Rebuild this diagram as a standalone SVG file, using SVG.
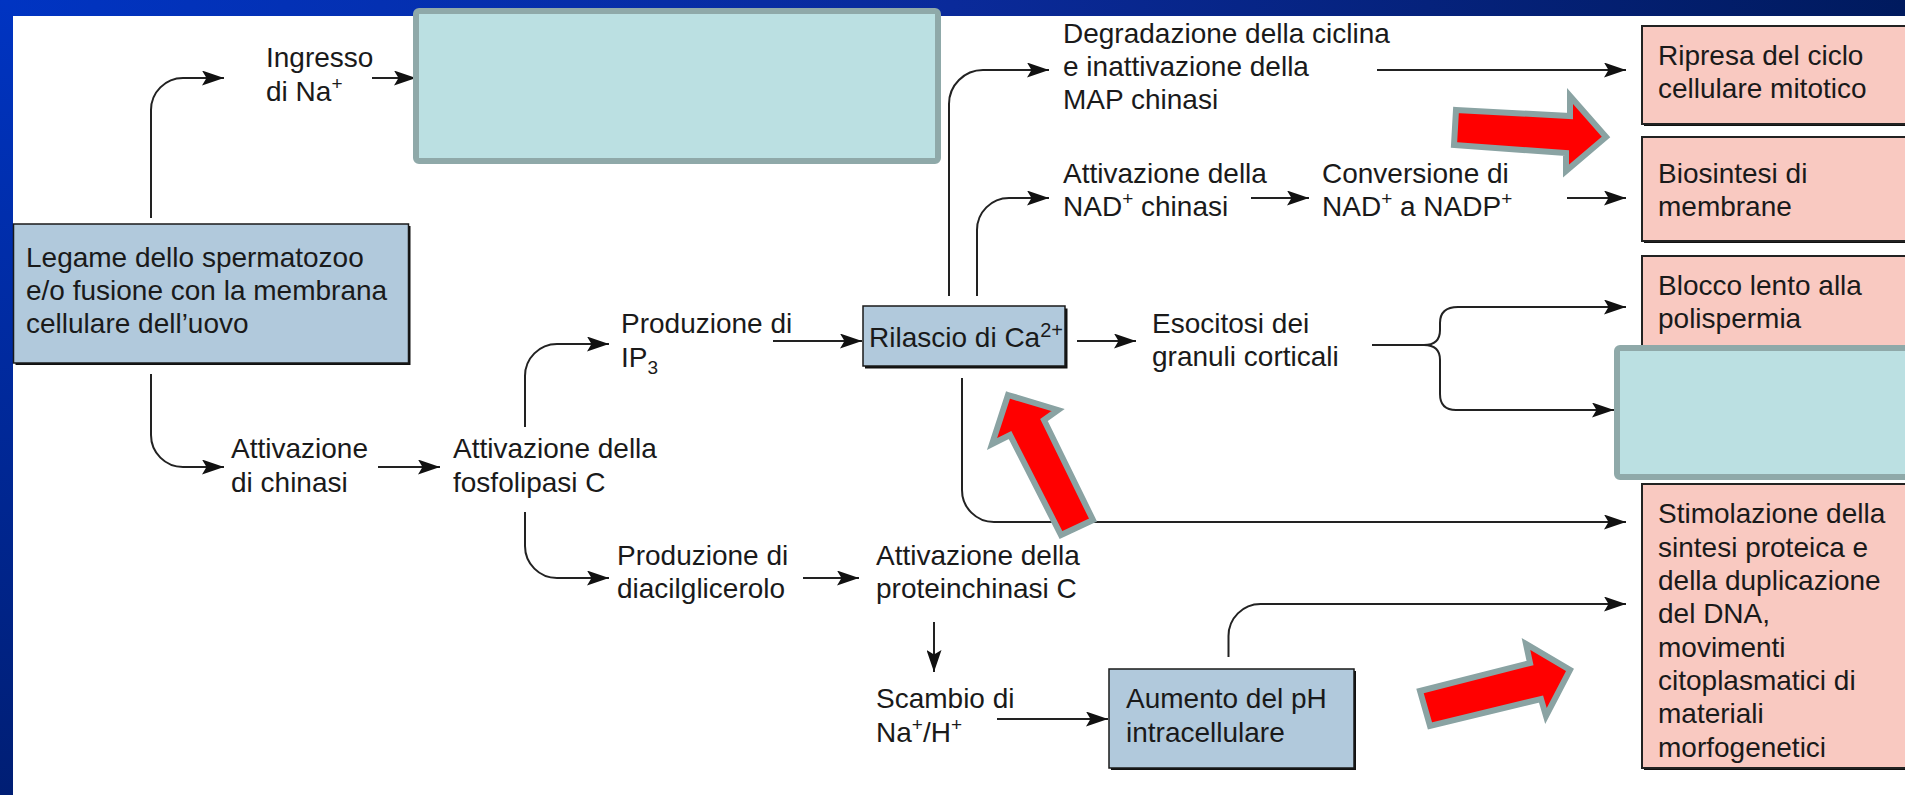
<svg xmlns="http://www.w3.org/2000/svg" width="1905" height="795" viewBox="0 0 1905 795">
<defs>
<linearGradient id="gTop" x1="0" y1="0" x2="1" y2="0">
<stop offset="0" stop-color="#0034c2"/>
<stop offset="0.5" stop-color="#0a2a9a"/>
<stop offset="1" stop-color="#001a5e"/>
</linearGradient>
<linearGradient id="gLeft" x1="0" y1="0" x2="0" y2="1">
<stop offset="0" stop-color="#0034c2"/>
<stop offset="1" stop-color="#001e74"/>
</linearGradient>
<marker id="ah" markerUnits="userSpaceOnUse" markerWidth="23" markerHeight="15" refX="22" refY="7.5" orient="auto">
<path d="M0,0 L22,7.5 L0,15 L4.5,7.5 z" fill="#111"/>
</marker>
<style>
text{font-family:"Liberation Sans",Arial,sans-serif;font-size:28px;fill:#1a1a1a}
.sup{font-size:19px}
.conn{fill:none;stroke:#222;stroke-width:2}
.arr{marker-end:url(#ah)}
.blue{fill:#b1c9dc;stroke:#1a1a1a;stroke-width:1.5}
.pink{fill:#f9c9c1;stroke:#222;stroke-width:2}
.shadow{fill:#111}
.cyan{fill:#bbe0e2;stroke:#8fa9a9;stroke-width:6}
.red{fill:#ff0000;stroke:#8aa3a3;stroke-width:6;stroke-linejoin:miter}
</style>
</defs>
<rect x="0" y="0" width="1905" height="795" fill="#ffffff"/>
<rect x="0" y="0" width="1905" height="16" fill="url(#gTop)"/>
<rect x="0" y="0" width="13" height="795" fill="url(#gLeft)"/>

<g id="connectors">
<path class="conn arr" d="M151,218 V110 A32,32 0 0 1 183,78 H224"/>
<path class="conn arr" d="M372,78 H416"/>
<path class="conn arr" d="M151,374 V435 A32,32 0 0 0 183,467 H224"/>
<path class="conn arr" d="M378,467 H440"/>
<path class="conn arr" d="M525,427 V376 A32,32 0 0 1 557,344 H609"/>
<path class="conn arr" d="M525,512 V546 A32,32 0 0 0 557,578 H609"/>
<path class="conn arr" d="M773,341 H862"/>
<path class="conn arr" d="M803,578 H859"/>
<path class="conn arr" d="M934,622 V672"/>
<path class="conn arr" d="M997,719 H1108"/>
<path class="conn arr" d="M1228.5,657 V636 A32,32 0 0 1 1260.5,604 H1626"/>
<path class="conn arr" d="M962,378 V490 A32,32 0 0 0 994,522 H1626"/>
<path class="conn arr" d="M949,296 V104 A34,34 0 0 1 983,70 H1049"/>
<path class="conn arr" d="M977,296 V230 A32,32 0 0 1 1009,198 H1049"/>
<path class="conn arr" d="M1377,70 H1626"/>
<path class="conn arr" d="M1251,198 H1309"/>
<path class="conn arr" d="M1567,198 H1626"/>
<path class="conn arr" d="M1077,341 H1136"/>
<path class="conn arr" d="M1372,345 H1424 Q1440,345 1440,330 V323 Q1440,307 1458,307 H1626"/>
<path class="conn arr" d="M1424,345 Q1440,345 1440,360 V394 Q1440,410 1456,410 H1614"/>
</g>

<g id="node-ingresso">
<text x="266" y="67">Ingresso</text>
<text x="266" y="101">di Na<tspan class="sup" dy="-11">+</tspan></text>
</g>
<g id="node-cyan-top">
<rect class="cyan" x="416" y="11" width="522" height="150" rx="3"/>
</g>
<g id="node-legame">
<rect class="shadow" x="15.5" y="226" width="395" height="139"/>
<rect class="blue" x="13.5" y="224" width="395" height="139"/>
<text x="26" y="267">Legame dello spermatozoo</text>
<text x="26" y="300">e/o fusione con la membrana</text>
<text x="26" y="333">cellulare dell’uovo</text>
</g>
<g id="node-attiv-chinasi">
<text x="231" y="458">Attivazione</text>
<text x="231" y="492">di chinasi</text>
</g>
<g id="node-fosfolipasi">
<text x="453" y="458">Attivazione della</text>
<text x="453" y="492">fosfolipasi C</text>
</g>
<g id="node-ip3">
<text x="621" y="333">Produzione di</text>
<text x="621" y="367">IP<tspan class="sup" dy="7">3</tspan></text>
</g>
<g id="node-diacil">
<text x="617" y="565">Produzione di</text>
<text x="617" y="598">diacilglicerolo</text>
</g>
<g id="node-pkc">
<text x="876" y="565">Attivazione della</text>
<text x="876" y="598">proteinchinasi C</text>
</g>
<g id="node-scambio">
<text x="876" y="708">Scambio di</text>
<text x="876" y="742">Na<tspan class="sup" dy="-11">+</tspan><tspan dy="11">/H</tspan><tspan class="sup" dy="-11">+</tspan></text>
</g>
<g id="node-rilascio">
<rect class="shadow" x="865" y="308.5" width="202.5" height="60"/>
<rect class="blue" x="863" y="306" width="202" height="60"/>
<text x="869" y="347" font-size="27">Rilascio di Ca<tspan font-size="20" dy="-10">2+</tspan></text>
</g>
<g id="node-aumento">
<rect class="shadow" x="1111" y="671" width="245" height="99"/>
<rect class="blue" x="1109" y="669" width="245" height="99"/>
<text x="1126" y="708">Aumento del pH</text>
<text x="1126" y="742">intracellulare</text>
</g>
<g id="node-degradazione">
<text x="1063" y="43">Degradazione della ciclina</text>
<text x="1063" y="76">e inattivazione della</text>
<text x="1063" y="109">MAP chinasi</text>
</g>
<g id="node-nad-chinasi">
<text x="1063" y="183">Attivazione della</text>
<text x="1063" y="216">NAD<tspan class="sup" dy="-11">+</tspan><tspan dy="11"> chinasi</tspan></text>
</g>
<g id="node-conversione">
<text x="1322" y="183">Conversione di</text>
<text x="1322" y="216">NAD<tspan class="sup" dy="-11">+</tspan><tspan dy="11"> a NADP</tspan><tspan class="sup" dy="-11">+</tspan></text>
</g>
<g id="node-esocitosi">
<text x="1152" y="333">Esocitosi dei</text>
<text x="1152" y="366">granuli corticali</text>
</g>
<g id="node-ripresa">
<rect class="shadow" x="1644" y="28" width="280" height="98"/>
<rect class="pink" x="1642" y="26" width="280" height="98"/>
<text x="1658" y="65">Ripresa del ciclo</text>
<text x="1658" y="98">cellulare mitotico</text>
</g>
<g id="node-biosintesi">
<rect class="shadow" x="1644" y="139" width="280" height="104"/>
<rect class="pink" x="1642" y="137" width="280" height="104"/>
<text x="1658" y="183">Biosintesi di</text>
<text x="1658" y="216">membrane</text>
</g>
<g id="node-blocco">
<rect class="pink" x="1642" y="256" width="280" height="210"/>
<text x="1658" y="295">Blocco lento alla</text>
<text x="1658" y="328">polispermia</text>
</g>
<g id="node-cyan-right">
<rect class="cyan" x="1617" y="348" width="300" height="129" rx="3"/>
</g>
<g id="node-stimolazione">
<rect class="shadow" x="1644" y="486" width="280" height="284"/>
<rect class="pink" x="1642" y="484" width="280" height="284"/>
<text x="1658" y="523">Stimolazione della</text>
<text x="1658" y="557">sintesi proteica e</text>
<text x="1658" y="590">della duplicazione</text>
<text x="1658" y="623">del DNA,</text>
<text x="1658" y="657">movimenti</text>
<text x="1658" y="690">citoplasmatici di</text>
<text x="1658" y="723">materiali</text>
<text x="1658" y="757">morfogenetici</text>
</g>

<g id="red-arrows">
<polygon class="red" points="1456,110 1570,116 1570,96 1606,137 1566,171 1566,153 1454,145"/>
<polygon class="red" points="1008,395 1058,410 1044,420 1093,520 1061,535 1010,435 992,444"/>
<polygon class="red" points="1420,691 1530,663 1526,644 1570,670 1546,716 1541,699 1430,726"/>
</g>
</svg>
